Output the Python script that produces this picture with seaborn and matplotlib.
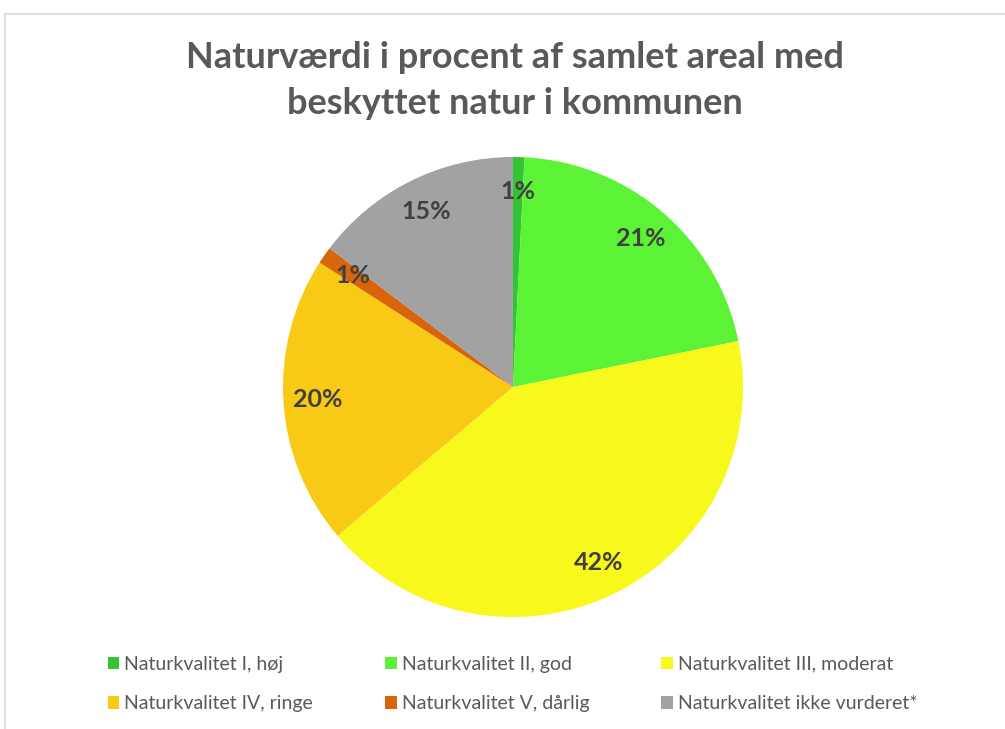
import seaborn as sns
import matplotlib.pyplot as plt
from matplotlib.patches import Rectangle

sns.set_theme(style="white")
plt.rcParams['font.family'] = ['Lato', 'DejaVu Sans']

# data (share of protected nature area, %)
categories = ["Naturkvalitet I, høj", "Naturkvalitet II, god", "Naturkvalitet III, moderat",
              "Naturkvalitet IV, ringe", "Naturkvalitet V, dårlig", "Naturkvalitet ikke vurderet*"]
values = [0.8, 21.0, 42.0, 20.3, 1.2, 14.7]
colors = ["#35c235", "#5cf235", "#f8f81c", "#f8c915", "#d8640c", "#a2a2a2"]

fig = plt.figure(figsize=(10.05, 7.29), dpi=100)
fig.patch.set_facecolor("white")

# thin chart-area frame
fig.patches.append(Rectangle((5 / 1005, -0.05), 1.1, (729 - 14) / 729 + 0.05,
                             transform=fig.transFigure, fill=False,
                             edgecolor="#d9d9d9", lw=1.2))

fig.text(0.512, 1 - 57 / 729, "Naturværdi i procent af samlet areal med",
         ha="center", va="center", fontsize=26, fontweight="bold", color="#595959")
fig.text(0.512, 1 - 104 / 729, "beskyttet natur i kommunen",
         ha="center", va="center", fontsize=26, fontweight="bold", color="#595959")

cx, cy, r = 513, 387, 230
ax = fig.add_axes([(cx - r) / 1005, (729 - cy - r) / 729, 2 * r / 1005, 2 * r / 729])

wedges, texts, autotexts = ax.pie(values, colors=colors, startangle=90, counterclock=False,
                                  autopct="%.0f%%", pctdistance=0.85, radius=1,
                                  wedgeprops=dict(linewidth=0))
for t in autotexts:
    t.set_fontsize(18)
    t.set_fontweight("bold")
    t.set_color("#404040")
ax.set_xlim(-1, 1)
ax.set_ylim(-1, 1)
ax.set_aspect("equal")
ax.axis("off")

# legend fills column-wise, so reorder to read row-wise like the original
order = [0, 3, 1, 4, 2, 5]
leg = fig.legend([wedges[i] for i in order], [categories[i] for i in order],
                 loc="center", bbox_to_anchor=(0.51, 1 - 684 / 729), ncol=3,
                 frameon=False, fontsize=14, handlelength=0.6, handleheight=0.6,
                 handletextpad=0.25, columnspacing=3.7, labelspacing=1.15)
for t in leg.get_texts():
    t.set_color("#595959")

fig.savefig("out.png", dpi=100)
